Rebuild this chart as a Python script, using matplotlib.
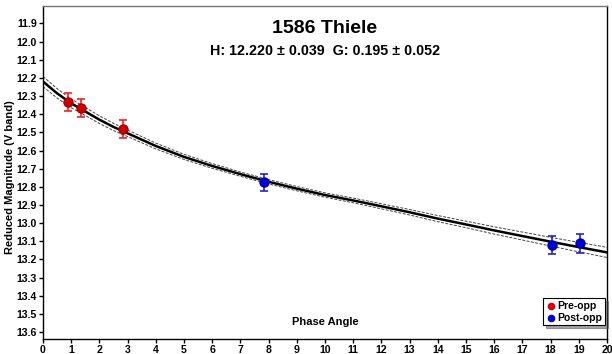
import numpy as np
import matplotlib
matplotlib.use("Agg")
import matplotlib.pyplot as plt

plt.rcParams['font.family'] = ['Liberation Sans', 'DejaVu Sans']
plt.rcParams['font.weight'] = 'bold'

# --- Data ---
title = "1586 Thiele"
subtitle = "H: 12.220 \u00b1 0.039  G: 0.195 \u00b1 0.052"

pre_phase = [0.90, 1.35, 2.82]
pre_mag = [12.331, 12.364, 12.481]
pre_err = [0.05, 0.05, 0.048]

post_phase = [7.84, 18.04, 19.04]
post_mag = [12.775, 13.118, 13.112]
post_err = [0.048, 0.05, 0.05]

# fitted curve and its uncertainty band
fit_phase = [0, 0.5, 1, 1.5, 2, 2.5, 3, 4, 5, 6, 7, 8, 9, 10,
             11, 12, 13, 14, 15, 16, 17, 18, 19, 20]
fit_mag = [12.220, 12.285, 12.340, 12.385, 12.430, 12.470, 12.505, 12.575,
           12.635, 12.685, 12.730, 12.772, 12.810, 12.845, 12.875, 12.907,
           12.940, 12.975, 13.007, 13.040, 13.071, 13.102, 13.132, 13.161]
fit_band = [0.028, 0.026, 0.024, 0.022, 0.021, 0.020, 0.018, 0.016,
            0.014, 0.013, 0.012, 0.012, 0.012, 0.012, 0.013, 0.014,
            0.015, 0.017, 0.018, 0.020, 0.022, 0.024, 0.026, 0.028]

x_ticks = list(range(0, 21))
y_ticks = [11.9, 12.0, 12.1, 12.2, 12.3, 12.4, 12.5, 12.6, 12.7, 12.8,
           12.9, 13.0, 13.1, 13.2, 13.3, 13.4, 13.5, 13.6]

# --- Plot ---
fig = plt.figure(figsize=(6.12, 3.54), dpi=100)
ax = fig.add_axes([43 / 612, 1 - 339 / 354, 564 / 612, 333 / 354])

fm = np.array(fit_mag)
fb = np.array(fit_band)
ax.plot(fit_phase, fm, color='black', lw=1.8, zorder=2)
ax.plot(fit_phase, fm - fb, color='#444444', lw=0.7, ls=(0, (3, 1.5)), zorder=2)
ax.plot(fit_phase, fm + fb, color='#444444', lw=0.7, ls=(0, (3, 1.5)), zorder=2)

ax.errorbar(pre_phase, pre_mag, yerr=pre_err, fmt='o', color='#ee2222',
            mfc='#cc0000', mec='#aa0000', ms=6.5, capsize=3, elinewidth=1.2,
            capthick=1.2, zorder=3, label='Pre-opp')
ax.errorbar(post_phase, post_mag, yerr=post_err, fmt='o', color='#2222cc',
            mfc='#0000dd', mec='#0000aa', ms=6.5, capsize=3, elinewidth=1.2,
            capthick=1.2, zorder=3, label='Post-opp')

ax.set_xlim(0, 20)
ax.set_ylim(13.638, 11.804)
ax.set_xticks(x_ticks)
ax.set_xticklabels([str(t) for t in x_ticks])
ax.set_yticks(y_ticks)
ax.set_yticklabels(["%.1f" % t for t in y_ticks])
ax.tick_params(direction='out', length=3, width=1, labelsize=7.6, pad=1.5)
for lab in ax.get_xticklabels() + ax.get_yticklabels():
    lab.set_fontweight('bold')
for s in ax.spines.values():
    s.set_linewidth(1.0)
ax.spines['top'].set_color('#777777')

ax.text(0.5, 0.933, title, transform=ax.transAxes, ha='center', va='center',
        fontsize=14, fontweight='bold')
ax.text(0.5, 0.866, subtitle, transform=ax.transAxes, ha='center', va='center',
        fontsize=10.3, fontweight='bold')
ax.text(0.5, 0.05, "Phase Angle", transform=ax.transAxes, ha='center',
        va='center', fontsize=8, fontweight='bold')
fig.text(10 / 612, 0.5, "Reduced Magnitude (V band)", rotation=90,
         ha='center', va='center', fontsize=8, fontweight='bold')

h1 = ax.scatter([], [], s=20, color='#dd0000', label='Pre-opp')
h2 = ax.scatter([], [], s=20, color='#0000dd', label='Post-opp')
leg = ax.legend(handles=[h1, h2], loc='lower right', bbox_to_anchor=(1.0, 0.035),
                fontsize=7.5, frameon=True, fancybox=False, shadow=True,
                handletextpad=0.1, handlelength=1.0, borderpad=0.25,
                labelspacing=0.15, borderaxespad=0.2)
leg.get_frame().set_edgecolor('black')
leg.get_frame().set_linewidth(0.8)
for t in leg.get_texts():
    t.set_fontweight('bold')

fig.savefig("out.png", dpi=100)
